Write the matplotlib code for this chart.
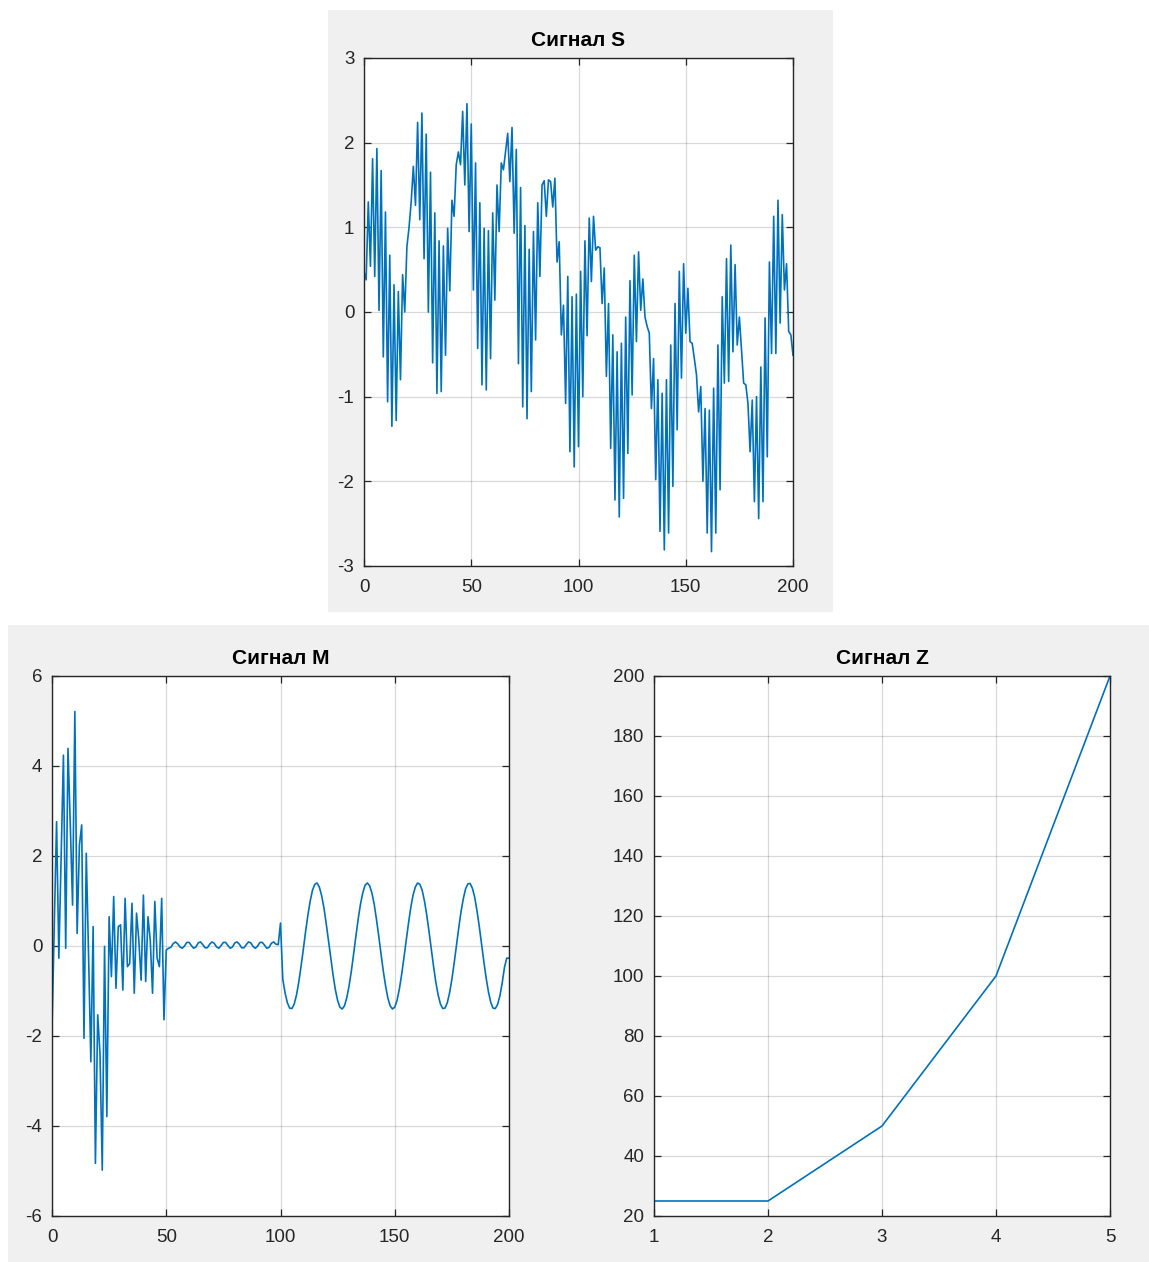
import numpy as np
import matplotlib
matplotlib.use("Agg")
import matplotlib.pyplot as plt
from matplotlib.patches import Rectangle

plt.rcParams['font.family'] = ['Liberation Sans', 'DejaVu Sans']
plt.rcParams['axes.unicode_minus'] = False

# ---- signal data -------------------------------------------------------
signal_s = [
    0.48, 0.38, 1.30, 0.54, 1.81, 0.42, 1.93, 0.02, 1.67, -0.53,
    1.18, -1.06, 0.67, -1.35, 0.32, -1.28, 0.24, -0.80, 0.44, 0.00,
    0.77, 1.00, 1.30, 1.72, 1.26, 2.24, 1.09, 2.35, 0.63, 2.10,
    0.00, 1.65, -0.60, 1.17, -0.96, 0.84, -0.94, 0.78, -0.51, 0.99,
    0.25, 1.32, 1.13, 1.74, 1.89, 1.74, 2.37, 1.50, 2.46, 0.95,
    2.22, 0.26, 1.76, -0.43, 1.29, -0.86, 0.99, -0.92, 0.96, -0.55,
    1.17, 0.14, 1.50, 0.95, 1.76, 1.68, 1.89, 2.11, 1.54, 2.18,
    0.93, 1.92, -0.61, 1.47, -1.12, 1.02, -1.26, 0.74, -0.94, 0.95,
    -0.33, 1.29, 0.42, 1.50, 1.55, 1.13, 1.56, 1.54, 1.24, 1.58,
    0.59, 0.83, -0.27, 0.08, -1.08,
    0.42, -1.65, 0.18, -1.83, 0.21, -1.59, 0.48, -1.00, 0.84, -0.28,
    1.11, 0.36, 1.13, 0.73, 0.77, 0.76, 0.10, 0.52, -0.76, 0.10,
    -1.61, -0.27, -2.22, -0.47, -2.42, -0.37, -2.20, -0.06, -1.67, 0.37,
    -0.98, 0.67, -0.35, 0.71, 0.02, 0.39, -0.06, -0.17, -0.25, -1.14,
    -0.55, -1.98, -0.80, -2.59, -0.96, -2.81, -0.80, -2.61, -0.39, -2.06,
    0.10, -1.39, 0.48, -0.78, 0.57, -0.25, 0.28, -0.35, -0.37, -0.55,
    -0.74, -1.18, -0.88, -2.00, -1.14, -2.61, -1.16, -2.83, -0.90, -2.61,
    -0.39, -2.10, 0.18, -0.84, 0.63, -0.82, 0.79, -0.47, 0.56, -0.39,
    -0.06, -0.45, -0.84, -0.86, -1.08, -1.65, -1.04, -2.24, -1.00, -2.44,
    -0.65, -2.24, -0.07, -1.71, 0.59, -0.49, 1.13, -0.49, 1.32, -0.13,
    1.15, 0.26, 0.57, -0.23, -0.27, -0.51,
]

signal_m = [
    -1.83, 0.50, 2.76, -0.27, 2.00, 4.24, -0.05, 4.39, 2.70, 0.91,
    5.21, 0.28, 2.24, 2.69, -2.05, 2.06, -0.20, -2.57, 0.43, -4.83,
    -1.53, -2.39, -4.98, -0.01, -3.79, 0.65, -0.68, 1.10, -0.94, 0.43,
    0.47, -0.98, 1.06, -0.46, -0.39, 0.95, -1.05, 0.73, 0.13, -0.76,
    1.13, -0.79, 0.65, 0.13, -1.05, 0.99, -0.27, -0.46, 1.06, -1.64,
    -0.09,
    -0.05, -0.03, 0.05, 0.09, 0.05, -0.02, -0.05, 0.00, 0.08, 0.08,
    0.01, -0.05, -0.02, 0.07, 0.09, 0.03, -0.04, -0.04, 0.04, 0.09,
    0.06, -0.02, -0.05, 0.01, 0.08, 0.08, 0.01, -0.05, -0.02, 0.07,
    0.09, 0.04, -0.04, -0.04, 0.03, 0.09, 0.07, -0.01, -0.05, 0.00,
    0.08, 0.08, 0.02, -0.05, -0.03, 0.06, 0.09, 0.04, 0.03,
    0.51,
    -0.74, -1.04, -1.26, -1.38, -1.39, -1.29, -1.09, -0.80, -0.45, -0.07,
    0.33, 0.69, 1.00, 1.24, 1.37, 1.40, 1.31, 1.12, 0.85, 0.50,
    0.12, -0.27, -0.64, -0.97, -1.21, -1.36, -1.40, -1.33, -1.15, -0.89,
    -0.56, -0.18, 0.22, 0.60, 0.93, 1.18, 1.35, 1.40, 1.34, 1.18,
    0.93, 0.59, 0.22, -0.18, -0.56, -0.89, -1.16, -1.33, -1.40, -1.36,
    -1.21, -0.96, -0.64, -0.27, 0.12, 0.50, 0.85, 1.13, 1.31, 1.40,
    1.37, 1.24, 1.00, 0.69, 0.32, -0.07, -0.46, -0.81, -1.09, -1.29,
    -1.39, -1.38, -1.26, -1.04, -0.74, -0.38, 0.01, 0.40, 0.76, 1.05,
    1.27, 1.38, 1.39, 1.28, 1.08, 0.78, 0.43, 0.04, -0.35, -0.71,
    -1.02, -1.25, -1.38, -1.39, -1.30, -1.11, -0.83, -0.48, -0.27, -0.27,
]

z_x = [1, 2, 3, 4, 5]
z_y = [25, 25, 50, 100, 200]

titles = ["Сигнал S", "Сигнал M", "Сигнал Z"]

# ---- figure ------------------------------------------------------------
W, H = 1149, 1262
fig = plt.figure(figsize=(W / 100, H / 100), dpi=100, facecolor="white")

panel_bg = "#f0f0f0"


def px_rect(x0, y0, x1, y1):
    return [x0 / W, 1 - y1 / H, (x1 - x0) / W, (y1 - y0) / H]


# grey window backgrounds (kept beneath the axes)
for (x0, y0, x1, y1) in [(328, 10, 833, 612), (8, 625, 1149, 1262)]:
    l, b, w, h = px_rect(x0, y0, x1, y1)
    fig.patches.append(Rectangle((l, b), w, h, transform=fig.transFigure,
                                 facecolor=panel_bg, edgecolor="none",
                                 linewidth=0, zorder=-10))

line_color = "#0072BD"
axis_color = "#262626"


def style_axes(ax, title):
    ax.set_facecolor("white")
    ax.grid(True, color="#000000", alpha=0.15, linewidth=0.9)
    ax.set_axisbelow(True)
    for sp in ax.spines.values():
        sp.set_color(axis_color)
        sp.set_linewidth(1.0)
    ax.tick_params(direction="in", top=True, right=True, length=5,
                   width=0.9, color=axis_color, labelcolor=axis_color,
                   labelsize=13.5)
    ax.tick_params(axis="x", pad=9)
    ax.tick_params(axis="y", pad=7)
    ax.set_title(title, fontsize=15, fontweight="bold", color="black", pad=9)


# Signal S
ax_s = fig.add_axes(px_rect(364, 58, 793, 566))
t_s = np.arange(len(signal_s))
ax_s.plot(t_s, signal_s, color=line_color, linewidth=1.2)
ax_s.set_xlim(0, 200)
ax_s.set_ylim(-3, 3)
ax_s.set_xticks([0, 50, 100, 150, 200])
ax_s.set_yticks([-3, -2, -1, 0, 1, 2, 3])
style_axes(ax_s, titles[0])

# Signal M
ax_m = fig.add_axes(px_rect(52, 676, 509, 1216))
t_m = np.arange(len(signal_m))
ax_m.plot(t_m, signal_m, color=line_color, linewidth=1.2)
ax_m.set_xlim(0, 200)
ax_m.set_ylim(-6, 6)
ax_m.set_xticks([0, 50, 100, 150, 200])
ax_m.set_yticks([-6, -4, -2, 0, 2, 4, 6])
style_axes(ax_m, titles[1])

# Signal Z
ax_z = fig.add_axes(px_rect(654, 676, 1110, 1216))
ax_z.plot(z_x, z_y, color=line_color, linewidth=1.2)
ax_z.set_xlim(1, 5)
ax_z.set_ylim(20, 200)
ax_z.set_xticks([1, 2, 3, 4, 5])
ax_z.set_yticks(list(range(20, 201, 20)))
style_axes(ax_z, titles[2])

fig.savefig("out.png", dpi=100, facecolor="white")
